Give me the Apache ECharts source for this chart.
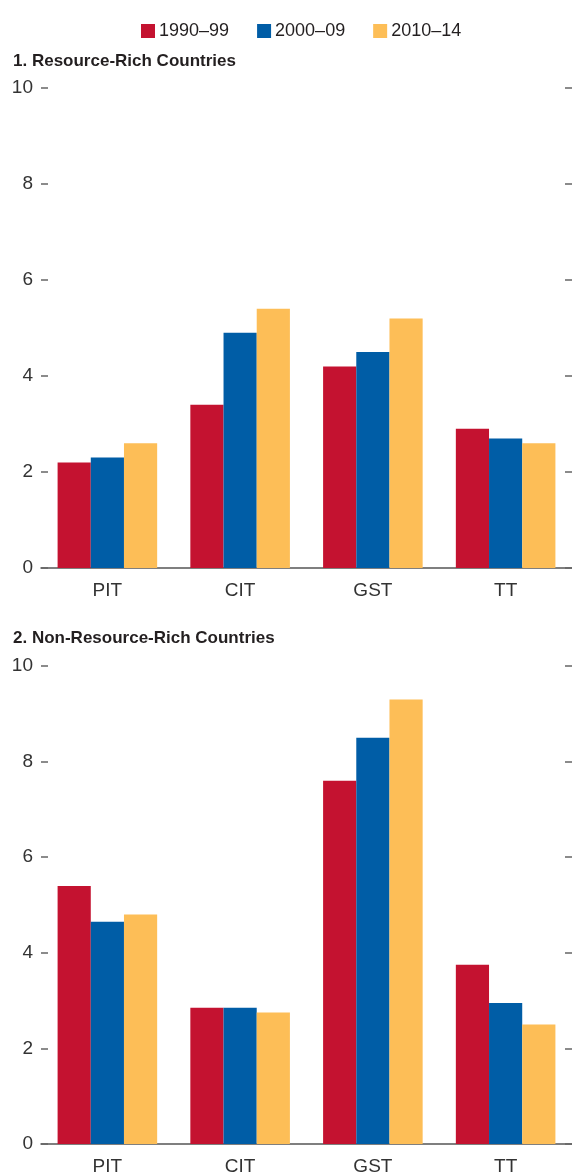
<!DOCTYPE html>
<html>
<head>
<meta charset="utf-8">
<script src="https://cdn.jsdelivr.net/npm/echarts@6/dist/echarts.min.js"></script>
<style>
    html, body { margin: 0; padding: 0; background: #fff; }
    #main { width: 572px; height: 1176px; }
</style>
</head>
<body>
<div id="main"></div>
<script>
var categories = ["PIT", "CIT", "GST", "TT"];
var periods = ["1990–99", "2000–09", "2010–14"];
var colors = ["#C41230", "#005DA6", "#FDBE57"];
var yTicks = [0, 2, 4, 6, 8, 10];

// panel 1: resource-rich
var rich1990 = [2.2, 3.4, 4.2, 2.9];
var rich2000 = [2.3, 4.9, 4.5, 2.7];
var rich2010 = [2.6, 5.4, 5.2, 2.6];

// panel 2: non-resource-rich
var non1990 = [5.4, 2.85, 7.6, 3.75];
var non2000 = [4.65, 2.85, 8.5, 2.95];
var non2010 = [4.8, 2.75, 9.3, 2.5];

var FONT = "'Liberation Sans', Arial, sans-serif";

function makeXAxis(gridIndex) {
    return {
        type: 'category',
        gridIndex: gridIndex,
        data: categories,
        boundaryGap: true,
        axisLine: { lineStyle: { color: '#555', width: 1.5 } },
        axisTick: {
            inside: true,
            length: 7,
            lineStyle: { color: '#555', width: 1.5 },
            interval: function (index) { return index > 0; }
        },
        axisLabel: { color: '#333', fontSize: 19, fontFamily: FONT, margin: 13 },
        splitLine: { show: false }
    };
}

function makeYAxis(gridIndex, position, showLabel) {
    return {
        type: 'value',
        gridIndex: gridIndex,
        position: position,
        min: yTicks[0],
        max: yTicks[yTicks.length - 1],
        interval: 2,
        axisLine: { show: false },
        axisTick: { show: true, inside: true, length: 7, lineStyle: { color: '#666', width: 1.5 } },
        axisLabel: { show: showLabel, color: '#333', fontSize: 19, fontFamily: FONT, margin: 8 },
        splitLine: { show: false }
    };
}

function makeSeries(name, data, color, axisIndex) {
    return {
        name: name,
        type: 'bar',
        xAxisIndex: axisIndex,
        yAxisIndex: axisIndex * 2,
        data: data,
        barGap: '0%',
        barCategoryGap: '25%',
        itemStyle: { color: color },
        silent: true
    };
}

var myChart = echarts.init(document.getElementById('main'), null, { renderer: 'canvas' });
var option = {
    animation: false,
    backgroundColor: '#fff',
    title: [{
        text: '1. Resource-Rich Countries',
        left: 8,
        top: 48,
        textStyle: { fontSize: 17, fontWeight: 'bold', color: '#231f20', fontFamily: FONT }
    }, {
        text: '2. Non-Resource-Rich Countries',
        left: 8,
        top: 625,
        textStyle: { fontSize: 17, fontWeight: 'bold', color: '#231f20', fontFamily: FONT }
    }],
    legend: {
        left: 136,
        top: 17,
        itemWidth: 14,
        itemHeight: 14,
        itemGap: 28,
        icon: 'rect',
        data: periods,
        textStyle: { fontSize: 18, color: '#231f20', fontFamily: FONT, padding: [0, 0, 0, -1] },
        selectedMode: false
    },
    grid: [
        { left: 41, width: 534, top: 88, height: 480 },
        { left: 41, width: 534, top: 666, height: 480 }
    ],
    xAxis: [makeXAxis(0), makeXAxis(1)],
    yAxis: [
        makeYAxis(0, 'left', true), makeYAxis(0, 'right', false),
        makeYAxis(1, 'left', true), makeYAxis(1, 'right', false)
    ],
    series: [
        makeSeries(periods[0], rich1990, colors[0], 0),
        makeSeries(periods[1], rich2000, colors[1], 0),
        makeSeries(periods[2], rich2010, colors[2], 0),
        makeSeries(periods[0], non1990, colors[0], 1),
        makeSeries(periods[1], non2000, colors[1], 1),
        makeSeries(periods[2], non2010, colors[2], 1)
    ]
};
myChart.setOption(option);
</script>
</body>
</html>
